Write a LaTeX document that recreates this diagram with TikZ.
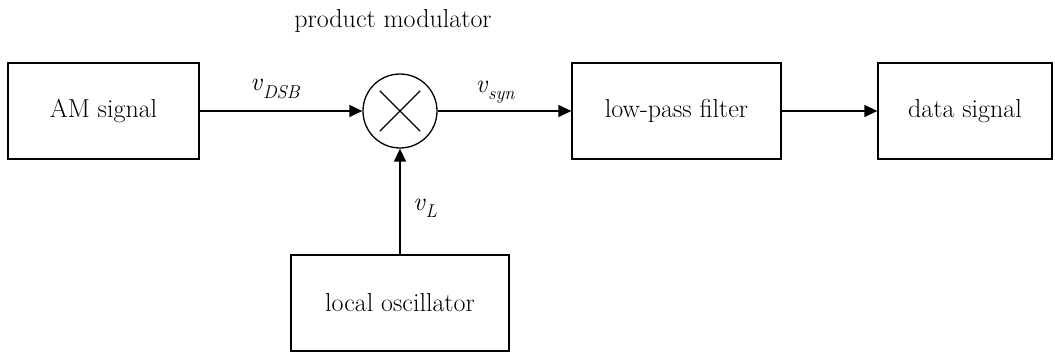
\documentclass[tikz,border=0pt]{standalone}
\usetikzlibrary{arrows.meta,calc}
\newcommand{\subv}[1]{\textit{v}\raisebox{-0.28em}{\fontsize{18.5}{20}\selectfont\itshape #1}}
\begin{document}
\begin{tikzpicture}[x=1pt,y=-1pt,
  every node/.style={font=\fontsize{26}{30}\selectfont},
  blockbox/.style={draw,line width=1.3pt,inner sep=0pt,minimum height=96pt},
  mixer/.style={draw,circle,line width=1.3pt,inner sep=0pt,minimum size=74pt},
  conn/.style={line width=1.3pt,-{Triangle[length=13pt,width=12pt]}},
  lbl/.style={inner sep=0pt}]
\useasboundingbox (0,0) rectangle (1055,352);
\node[blockbox,minimum width=191pt] (am) at (103.5,111) {AM signal};
\node[mixer] (mix) at (400,111) {};
\node[blockbox,minimum width=209pt] (lpf) at (676.5,111) {low-pass filter};
\node[blockbox,minimum width=174pt] (data) at (965,111) {data signal};
\node[blockbox,minimum width=218pt] (osc) at (400,303) {local oscillator};
\draw[line width=1.3pt] ($(mix.center)!0.76!(mix.45)$) -- ($(mix.center)!0.76!(mix.225)$);
\draw[line width=1.3pt] ($(mix.center)!0.76!(mix.135)$) -- ($(mix.center)!0.76!(mix.315)$);
\draw[conn] (am.east) -- (mix.west);
\draw[conn] (mix.east) -- (lpf.west);
\draw[conn] (lpf.east) -- (data.west);
\draw[conn] (osc.north) -- (mix.south);
\node[lbl] (pm) at (393,21) {product modulator};
\node[lbl] (vdsb) at (275,89) {\subv{DSB}};
\node[lbl] (vsyn) at (495,92) {\subv{syn}};
\node[lbl] (vl) at (425,208) {\subv{L}};
\end{tikzpicture}
\end{document}
